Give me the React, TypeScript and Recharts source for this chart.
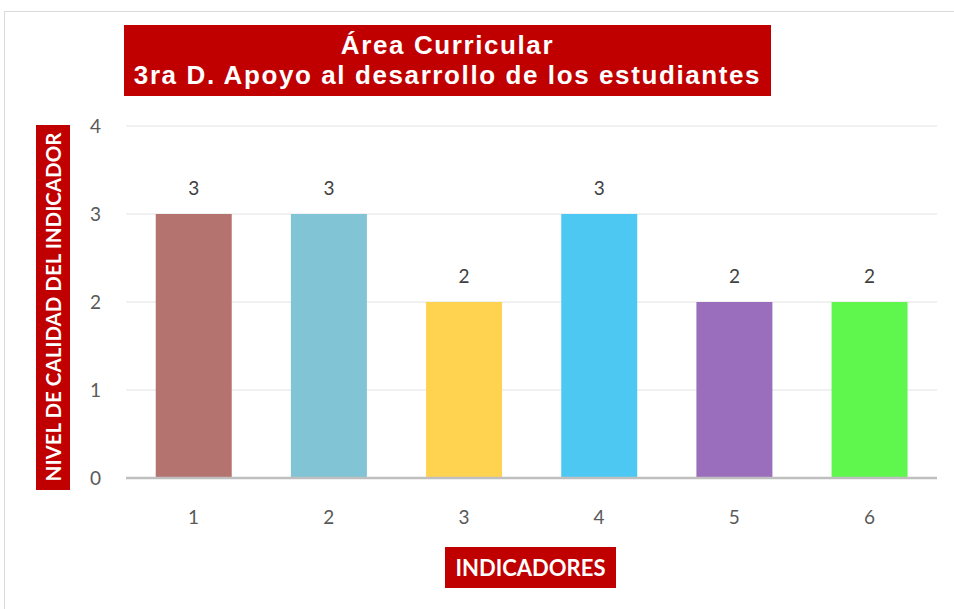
import { Bar, BarChart, CartesianGrid, Cell, LabelList, XAxis, YAxis } from 'recharts'

const categories = ['1', '2', '3', '4', '5', '6']
const values = [3, 3, 2, 3, 2, 2]
const barColors = ['#B57370', '#80C4D6', '#FFD34F', '#4DC8F3', '#9A6DBD', '#5FF64E']
const yTicks = [0, 1, 2, 3, 4]

const titleLines = ['Área Curricular', '3ra D. Apoyo al desarrollo de los estudiantes']
const yTitle = 'NIVEL DE CALIDAD DEL INDICADOR'
const xTitle = 'INDICADORES'

const data = categories.map((c, i) => ({ name: c, value: values[i] }))

const RED = '#C00000'
const tickFont = { fontSize: 19, fill: '#595959', fontFamily: 'Lato, "Open Sans", sans-serif' }

export default function App() {
  return (
    <div style={{ position: 'absolute', left: 0, top: 0, width: 954, height: 609, background: '#fff', overflow: 'hidden' }}>
      <div style={{ position: 'absolute', left: 4, top: 11, width: 960, height: 610, border: '1px solid #D9D9D9' }} />
      <BarChart
        width={954}
        height={609}
        data={data}
        margin={{ top: 126, right: 17, left: 0, bottom: 0 }}
        barCategoryGap="22%"
        style={{ position: 'absolute', left: 0, top: 0 }}
      >
        <CartesianGrid vertical={false} stroke="#EDEDED" strokeWidth={1.5} />
        <XAxis
          dataKey="name"
          height={131}
          tickLine={false}
          tickSize={0}
          tickMargin={33}
          axisLine={{ stroke: '#BFBFBF', strokeWidth: 2.5 }}
          tick={tickFont}
        />
        <YAxis
          width={126}
          domain={[0, 4]}
          ticks={yTicks}
          axisLine={false}
          tickLine={false}
          tickSize={0}
          tickMargin={25}
          tick={tickFont}
        />
        <Bar dataKey="value" isAnimationActive={false}>
          {data.map((d, i) => (
            <Cell key={d.name} fill={barColors[i]} />
          ))}
          <LabelList
            dataKey="value"
            position="top"
            offset={19}
            style={{ fontSize: 19, fill: '#404040', fontFamily: 'Lato, "Open Sans", sans-serif' }}
          />
        </Bar>
      </BarChart>

      <div
        style={{
          position: 'absolute',
          left: 124,
          top: 25,
          width: 647,
          height: 71,
          background: RED,
          color: '#fff',
          fontFamily: '"Liberation Sans", Arial, sans-serif',
          fontWeight: 'bold',
          fontSize: 26,
          lineHeight: '30px',
          letterSpacing: 1.6,
          textAlign: 'center',
          paddingTop: 5,
          boxSizing: 'border-box',
          whiteSpace: 'nowrap',
        }}
      >
        {titleLines.map((l) => (
          <div key={l}>{l}</div>
        ))}
      </div>

      <div
        style={{
          position: 'absolute',
          left: 36,
          top: 125,
          width: 34,
          height: 365,
          background: RED,
        }}
      >
        <div
          style={{
            position: 'absolute',
            left: 17,
            top: 182,
            transform: 'translate(-50%, -50%) rotate(-90deg)',
            whiteSpace: 'nowrap',
            color: '#fff',
            fontFamily: 'Lato, "Open Sans", sans-serif',
            fontWeight: 'bold',
            fontSize: 20.5,
          }}
        >
          {yTitle}
        </div>
      </div>

      <div
        style={{
          position: 'absolute',
          left: 445,
          top: 547,
          width: 171,
          height: 41,
          background: RED,
          color: '#fff',
          fontFamily: 'Lato, "Open Sans", sans-serif',
          fontWeight: 'bold',
          fontSize: 22,
          lineHeight: '41px',
          textAlign: 'center',
        }}
      >
        {xTitle}
      </div>
    </div>
  )
}
